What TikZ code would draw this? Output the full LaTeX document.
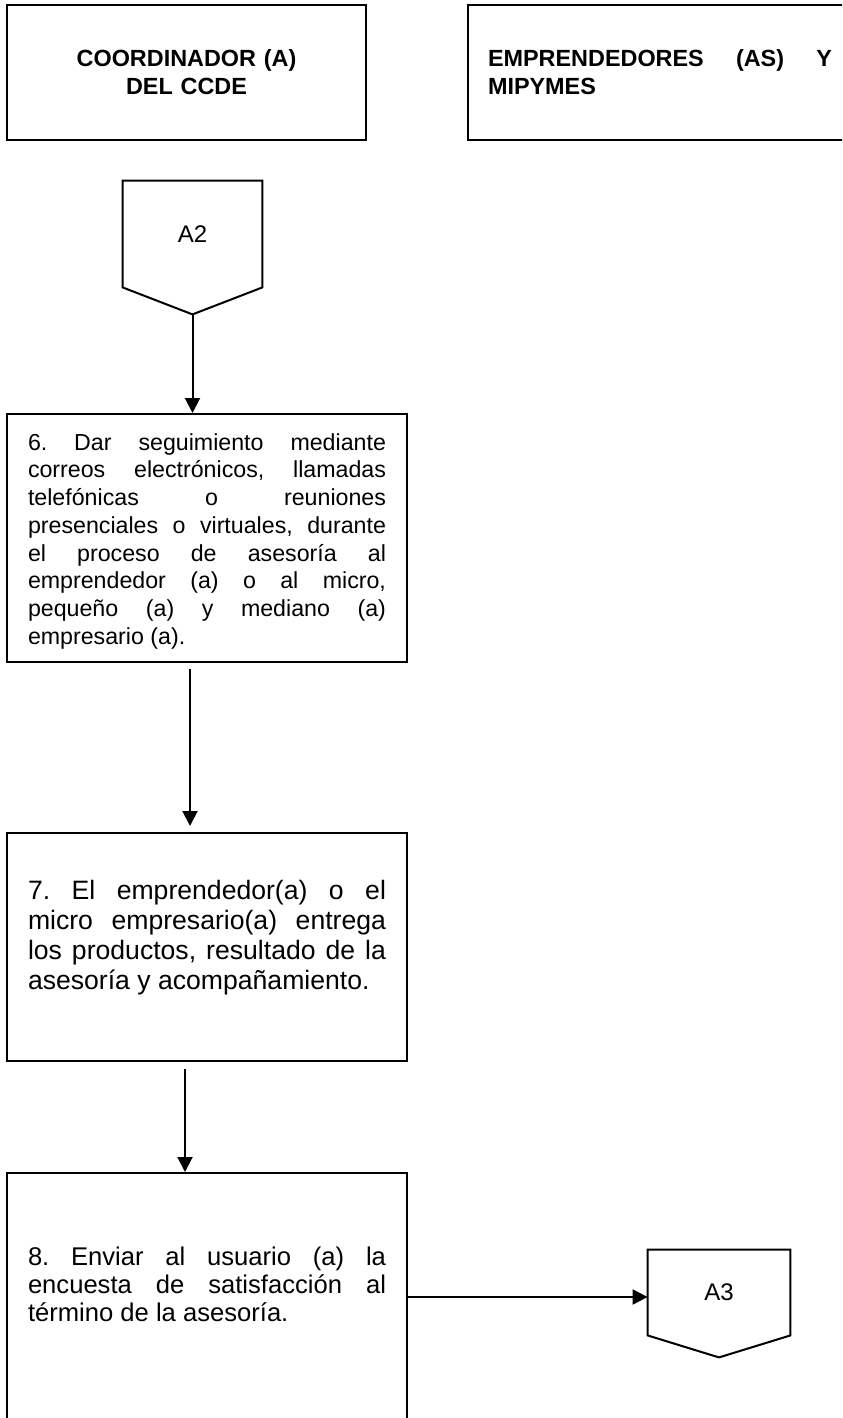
\documentclass[tikz,border=0pt]{standalone}
\usepackage{fontspec}
\setmainfont{Liberation Sans}
\usetikzlibrary{arrows.meta}

\begin{document}
\begin{tikzpicture}[x=0.5pt,y=-0.5pt,
	linea/.style={line width=1pt},
	caja/.style={draw,linea,inner sep=0pt,minimum width=200pt},
	texto/.style={inner sep=0pt,text width=179pt,align=justify,anchor=north,
		execute at begin node={\frenchspacing\tolerance=10000\hyphenpenalty=10000}},
	flecha/.style={linea,-{Triangle[length=7.5pt,width=7.5pt]}},
	conector/.style={inner sep=0pt,font=\fontsize{12}{14}\selectfont}]
	\useasboundingbox (0,0) rectangle (842,1418);
	\clip (0,0) rectangle (842,1418);

	% encabezados
	\node[caja,minimum width=179.5pt,minimum height=67.5pt] (enc1) at (186.5,72.5){};
	\node[caja,minimum width=206pt,minimum height=67.5pt] (enc2) at (674,72.5){};
	\node[texto,align=center,font=\bfseries\fontsize{11.7}{14}\selectfont] (tenc1) at (186.5,49){COORDINADOR (A)\\DEL CCDE};
	\node[texto,text width=172pt,font=\bfseries\fontsize{11.7}{14}\selectfont] (tenc2) at (660,49){EMPRENDEDORES (AS) Y\linebreak MIPYMES};

	% conectores fuera de pagina
	\node[conector,minimum width=69.5pt,minimum height=53pt] (a2) at (192.5,234){A2};
	\node[conector,minimum width=71pt,minimum height=42.5pt] (a3) at (719,1292.5){A3};
	\foreach \c/\p in {a2/13.5pt,a3/11pt}
		\draw[linea] (\c.north west) -- (\c.north east) -- (\c.south east)
			-- ([yshift=-\p]\c.south) -- (\c.south west) -- cycle;

	% actividades
	\node[caja,minimum height=124pt] (caja6) at (207,538){};
	\node[caja,minimum height=114pt] (caja7) at (207,947){};
	\node[caja,minimum height=124pt] (caja8) at (207,1297){};

	\node[texto,font=\fontsize{11.6}{13.85}\selectfont] (t6) at (207,433){6. Dar seguimiento mediante\linebreak correos electrónicos, llamadas\linebreak telefónicas o reuniones\linebreak presenciales o virtuales, durante\linebreak el proceso de asesoría al\linebreak emprendedor (a) o al micro,\linebreak pequeño (a) y mediano (a)\linebreak empresario (a).};
	\node[texto,font=\fontsize{13.3}{15}\selectfont] (t7) at (207,880){7. El emprendedor(a) o el\linebreak micro empresario(a) entrega\linebreak los productos, resultado de la\linebreak asesoría y acompañamiento.};
	\node[texto,font=\fontsize{12.8}{14}\selectfont] (t8) at (207,1247){8. Enviar al usuario (a) la\linebreak encuesta de satisfacción al\linebreak término de la asesoría.};

	\draw[flecha] ([yshift=-13.5pt]a2.south) -- (a2.south |- caja6.north);
	\draw[flecha,shorten >=3pt] ([xshift=-8.5pt,yshift=-3pt]caja6.south) -- ([xshift=-8.5pt]caja7.north);
	\draw[flecha] ([xshift=-11pt,yshift=-3.5pt]caja7.south) -- ([xshift=-11pt]caja8.north);
	\draw[flecha] (caja8.east) -- (a3.west |- caja8.east);
\end{tikzpicture}
\end{document}
